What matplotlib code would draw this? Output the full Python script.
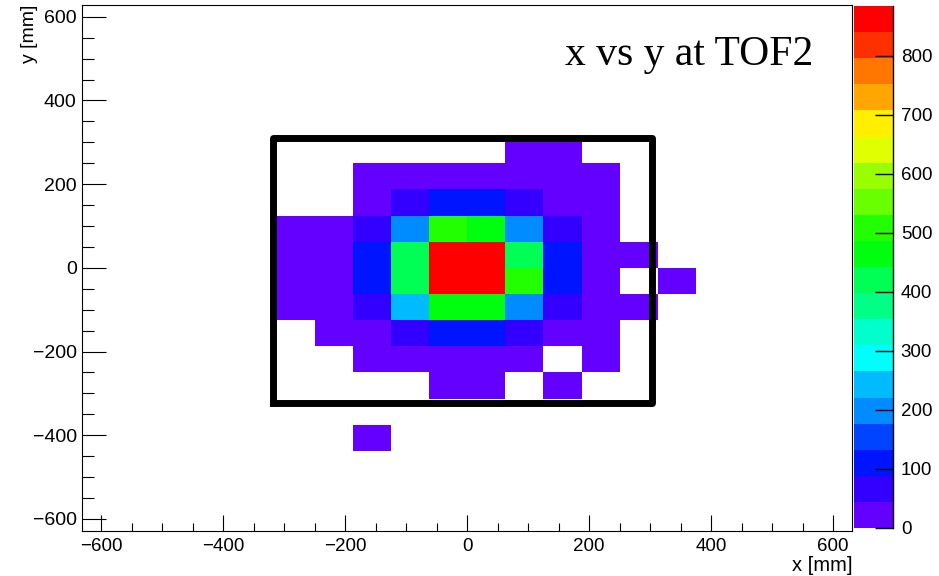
import colorsys
import numpy as np
import matplotlib
matplotlib.use("Agg")
import matplotlib.pyplot as plt
from matplotlib.colors import ListedColormap, BoundaryNorm
from matplotlib.cm import ScalarMappable
from matplotlib.ticker import MultipleLocator

plt.rcParams['font.family'] = ['Liberation Sans', 'DejaVu Sans']

# 62.5 mm bins over the TOF2 plane
bin_width = 62.5
x_edges = np.arange(-625, 625 + bin_width, bin_width)
y_edges = np.arange(-625, 625 + bin_width, bin_width)

# counts in the occupied block: rows from y = 312.5 down to y = -437.5,
# columns from x = -312.5 to x = 375
block_x0 = -312.5
block_y1 = 312.5
counts = [
    [0,  0,   0,   0,   0,   0,  12,  18,  0, 0, 0],
    [0,  0,   8,  15,  22,  25,  30,  20, 10, 0, 0],
    [0,  0,  20,  65, 105, 112,  60,  30, 12, 0, 0],
    [15, 22, 55, 195, 505, 470, 200,  58, 25, 0, 0],
    [18, 30, 118, 420, 862, 884, 425, 110, 28, 6, 0],
    [20, 32, 120, 415, 870, 858, 500, 115, 24, 0, 4],
    [16, 26, 62, 240, 465, 475, 205,  66, 22, 5, 0],
    [0,  10, 28,  58, 100, 108,  55,  35, 15, 0, 0],
    [0,  0,   8,  18,  25,  22,  14,   0,  7, 0, 0],
    [0,  0,   0,   0,   6,   9,   0,   4,  0, 0, 0],
    [0,  0,   0,   0,   0,   0,   0,   0,  0, 0, 0],
    [0,  0,   3,   0,   0,   0,   0,   0,  0, 0, 0],
]

# TOF2 acceptance box [mm]
box_x = (-318, 303)
box_y = (-323, 310)

# fill the full histogram
H = np.zeros((len(y_edges) - 1, len(x_edges) - 1))
block = np.array(counts, dtype=float)[::-1]  # bottom row first
i0 = int(round((block_x0 - x_edges[0]) / bin_width))
j1 = int(round((block_y1 - y_edges[0]) / bin_width))
j0 = j1 - block.shape[0]
H[j0:j1, i0:i0 + block.shape[1]] = block
H = np.ma.masked_equal(H, 0)

# ROOT "pretty" palette (violet -> red), 20 contour levels
npal = 50
pal = []
for i in range(npal - 1):
    hue = 280 - (i + 1) * 280 / npal
    pal.append(colorsys.hls_to_rgb(hue / 360.0, 0.5, 1.0))
pal.append((1.0, 0.0, 0.0))
ncont = 20
cols = [pal[int((k + 0.99) * npal / ncont)] for k in range(ncont)]
cmap = ListedColormap(cols)
cmap.set_over(cols[-1])
zmax = H.max()
levels = np.linspace(0, zmax, ncont + 1)
norm = BoundaryNorm(levels, ncont)

fig = plt.figure(figsize=(9.39, 5.76), dpi=100)
ax = fig.add_axes([82.3 / 939, 45.3 / 576, 769.7 / 939, 525.7 / 576])

ax.pcolormesh(x_edges, y_edges, H, cmap=cmap, norm=norm,
              edgecolors='none', antialiased=False)

ax.plot([box_x[0], box_x[1], box_x[1], box_x[0], box_x[0]],
        [box_y[0], box_y[0], box_y[1], box_y[1], box_y[0]],
        color='black', lw=5, solid_joinstyle='round')

ax.set_xlim(-631, 631)
ax.set_ylim(-628, 628)

ax.xaxis.set_major_locator(MultipleLocator(200))
ax.xaxis.set_minor_locator(MultipleLocator(50))
ax.yaxis.set_major_locator(MultipleLocator(200))
ax.yaxis.set_minor_locator(MultipleLocator(50))
ax.tick_params(axis='x', which='major', direction='in', length=11.5, width=0.8,
               labelsize=13.5, pad=5)
ax.tick_params(axis='x', which='minor', direction='in', length=5.5, width=0.8)
ax.tick_params(axis='y', which='major', direction='in', length=17, width=0.8,
               labelsize=14, pad=4)
ax.tick_params(axis='y', which='minor', direction='in', length=8.5, width=0.8)
for s in ax.spines.values():
    s.set_linewidth(0.8)

ax.set_xlabel("x [mm]", loc='right', fontsize=14.5, labelpad=1)
ax.set_ylabel("y [mm]", loc='top', fontsize=14)
ax.yaxis.set_label_coords(-0.0576, 1.0)

fig.text(565 / 939, (576 - 65) / 576, "x vs y at TOF2", family='Liberation Serif',
         fontsize=30, va='baseline', ha='left')

# palette axis
cax = fig.add_axes([853.5 / 939, 48 / 576, 39 / 939, 522 / 576])
sm = ScalarMappable(norm=norm, cmap=cmap)
cb = fig.colorbar(sm, cax=cax, ticks=np.arange(0, 900, 100))
cb.outline.set_visible(False)
cb.minorticks_off()
cax.tick_params(direction='in', length=13, width=1, labelsize=13.5, pad=6)
cax.plot([1, 1], [0, 1], transform=cax.transAxes, color='black', lw=1,
         clip_on=False)

fig.savefig("out.png", dpi=100)
